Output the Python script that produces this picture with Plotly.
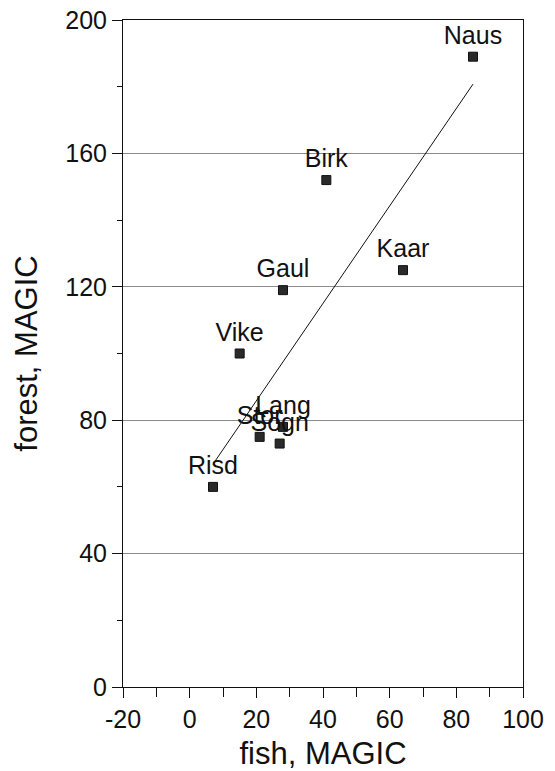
import numpy as np
import plotly.graph_objects as go

# Site names with fish-based and forest-based MAGIC estimates
sites = ["Naus", "Birk", "Kaar", "Gaul", "Vike", "Lang", "Stor", "Sogn", "Risd"]
fish = [85, 41, 64, 28, 15, 28, 21, 27, 7]
forest = [189, 152, 125, 119, 100, 78, 75, 73, 60]

x_ticks = [-20, 0, 20, 40, 60, 80, 100]
x_tick_text = ["-20", "0", "20", "40", "60", "80", "100"]
y_ticks = [0, 40, 80, 120, 160, 200]

FONT = "Liberation Sans, Arial, Helvetica, sans-serif"
INK = "#111111"

# Least-squares line across the observed fish range
xa = np.array(fish, dtype=float)
ya = np.array(forest, dtype=float)
slope, intercept = np.polyfit(xa, ya, 1)
fit_x = np.array([xa.min(), xa.max()])
fit_y = slope * fit_x + intercept

fig = go.Figure()

fig.add_trace(go.Scatter(
    x=fit_x, y=fit_y, mode="lines",
    line=dict(color=INK, width=1),
    hoverinfo="skip", showlegend=False,
))

fig.add_trace(go.Scatter(
    x=fish, y=forest, mode="markers+text",
    text=sites, textposition="top center",
    textfont=dict(family=FONT, size=25, color=INK),
    marker=dict(symbol="square", size=9, color="#2a2a2a",
                line=dict(color=INK, width=1)),
    showlegend=False,
))

fig.update_layout(
    width=555, height=771,
    margin=dict(l=123, r=32, t=20, b=84),
    paper_bgcolor="white", plot_bgcolor="white",
    font=dict(family=FONT, color=INK),
)

fig.update_xaxes(
    range=[-20, 100], tickvals=x_ticks, ticktext=x_tick_text,
    ticks="outside", ticklen=10, tickwidth=1, tickcolor=INK,
    minor=dict(dtick=10, ticks="outside", ticklen=9, tickcolor=INK),
    showline=True, linecolor=INK, linewidth=1, mirror=True,
    showgrid=False, zeroline=False, automargin=False,
    tickfont=dict(size=25, family=FONT, color=INK),
    title=dict(text="fish, MAGIC", font=dict(size=31, family=FONT, color=INK), standoff=12),
)

fig.update_yaxes(
    range=[0, 200], tickvals=y_ticks,
    ticks="outside", ticklen=10, tickwidth=1, tickcolor=INK,
    minor=dict(dtick=20, ticks="outside", ticklen=5, tickcolor=INK),
    showline=True, linecolor=INK, linewidth=1, mirror=True,
    showgrid=True, gridcolor="#8a8a8a", gridwidth=1, zeroline=False,
    automargin=False,
    tickfont=dict(size=25, family=FONT, color=INK),
    title=dict(text="forest, MAGIC", font=dict(size=31, family=FONT, color=INK), standoff=18),
)

fig.write_html("out.html")
